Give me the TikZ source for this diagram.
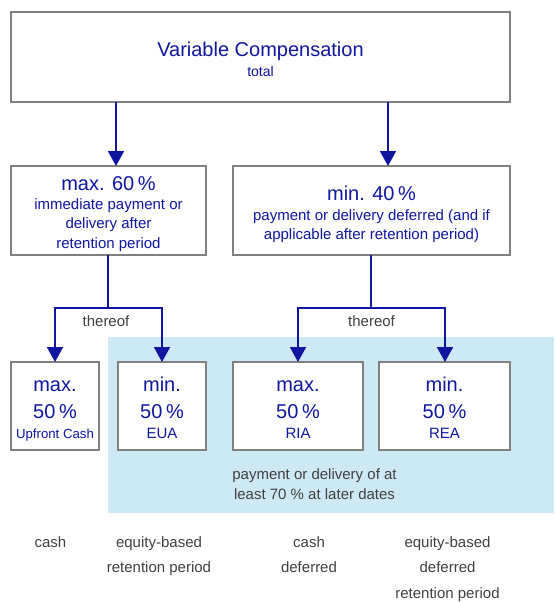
\documentclass[tikz,border=0pt]{standalone}
\usepackage{fontspec}
\setmainfont{Liberation Sans}
\usetikzlibrary{arrows.meta}
\definecolor{tblue}{RGB}{16,22,160}
\definecolor{lblue}{RGB}{205,233,245}
\definecolor{bgray}{RGB}{128,128,128}
\definecolor{tgray}{RGB}{64,64,64}
\begin{document}
\begin{tikzpicture}[x=1pt,y=-1pt,
  box/.style={draw=bgray,line width=2pt,fill=white,inner sep=0pt,outer sep=0pt},
  bt/.style={text=tblue,inner sep=0pt,anchor=base},
  gt/.style={text=tgray,inner sep=0pt,anchor=base,font=\fontsize{15}{18}\selectfont},
  conn/.style={draw=tblue,line width=2pt},
  arr/.style={conn,-{Triangle[width=16pt,length=15pt]}},
  big/.style={font=\fontsize{20}{24}\selectfont},
  mid/.style={font=\fontsize{15}{18}\selectfont}]
\useasboundingbox (0,0) rectangle (554,602);
\fill[lblue] (108,337) rectangle (554,513);
% boxes
\node[box,minimum width=499pt,minimum height=89pt] (top) at (260.5,57) {};
\node[box,minimum width=195pt,minimum height=89pt] (b60) at (108.5,210.5) {};
\node[box,minimum width=277pt,minimum height=89pt] (b40) at (371.5,210.5) {};
\node[box,minimum width=88pt,minimum height=88pt] (c1) at (55,406) {};
\node[box,minimum width=88pt,minimum height=88pt] (c2) at (162,406) {};
\node[box,minimum width=130pt,minimum height=88pt] (c3) at (298,406) {};
\node[box,minimum width=131pt,minimum height=88pt] (c4) at (444.5,406) {};
% top box text
\node[bt,big] (t1) at (260.5,56.5) {Variable Compensation};
\node[bt,font=\fontsize{14}{17}\selectfont] (t2) at (260.5,76) {total};
% b60 text
\node[bt,big] (m1) at (108.5,190) {max. 60\kern0.18em\%};
\node[bt,mid] (m2) at (108.5,209.3) {immediate payment or};
\node[bt,mid] (m3) at (108.5,228.8) {delivery after};
\node[bt,mid] (m4) at (108.5,248.3) {retention period};
% b40 text
\node[bt,big] (n1) at (371.5,200) {min. 40\kern0.18em\%};
\node[bt,mid] (n2) at (371.5,220) {payment or delivery deferred (and if};
\node[bt,mid] (n3) at (371.5,239.3) {applicable after retention period)};
% bottom box texts
\node[bt,big] (p1) at (55,391.7) {max.};
\node[bt,big] (p2) at (55,418.5) {50\kern0.18em\%};
\node[bt,font=\fontsize{13.2}{16}\selectfont] (p3) at (55,438.3) {Upfront Cash};
\node[bt,big] (q1) at (162,391.7) {min.};
\node[bt,big] (q2) at (162,418.5) {50\kern0.18em\%};
\node[bt,mid] (q3) at (162,438.3) {EUA};
\node[bt,big] (r1t) at (298,391.7) {max.};
\node[bt,big] (r2t) at (298,418.5) {50\kern0.18em\%};
\node[bt,mid] (r3t) at (298,438.3) {RIA};
\node[bt,big] (s1) at (444.5,391.7) {min.};
\node[bt,big] (s2) at (444.5,418.5) {50\kern0.18em\%};
\node[bt,mid] (s3) at (444.5,438.3) {REA};
% connectors
\coordinate (a1) at (116,0);
\coordinate (a2) at (388,0);
\draw[arr] (top.south -| a1) -- (b60.north -| a1);
\draw[arr] (top.south -| a2) -- (b40.north -| a2);
\coordinate (j1) at (108,308);
\coordinate (l1) at (55,308);
\coordinate (k1) at (162,308);
\coordinate (j2) at (371,308);
\coordinate (l2) at (298,308);
\coordinate (k2) at (445,308);
\draw[conn] (b60.south -| j1) -- (j1);
\draw[arr] (j1) -- (l1) -- (c1.north -| l1);
\draw[arr] (j1) -- (k1) -- (c2.north -| k1);
\draw[conn] (b40.south -| j2) -- (j2);
\draw[arr] (j2) -- (l2) -- (c3.north -| l2);
\draw[arr] (j2) -- (k2) -- (c4.north -| k2);
\node[gt] (th1) at (106,326) {thereof};
\node[gt] (th2) at (371.5,326) {thereof};
% shaded text
\node[gt] (g1) at (314.5,479) {payment or delivery of at};
\node[gt] (g2) at (314.5,499.3) {least 70 \% at later dates};
% bottom labels
\node[gt] (u1) at (50.5,547.5) {cash};
\node[gt] (u2) at (159,547.5) {equity-based};
\node[gt] (u3) at (159,572.8) {retention period};
\node[gt] (v1) at (309,547.5) {cash};
\node[gt] (v2) at (309,572.8) {deferred};
\node[gt] (w1) at (447.5,547.5) {equity-based};
\node[gt] (w2) at (447.5,572.8) {deferred};
\node[gt] (w3) at (447.5,598) {retention period};
\end{tikzpicture}
\end{document}
